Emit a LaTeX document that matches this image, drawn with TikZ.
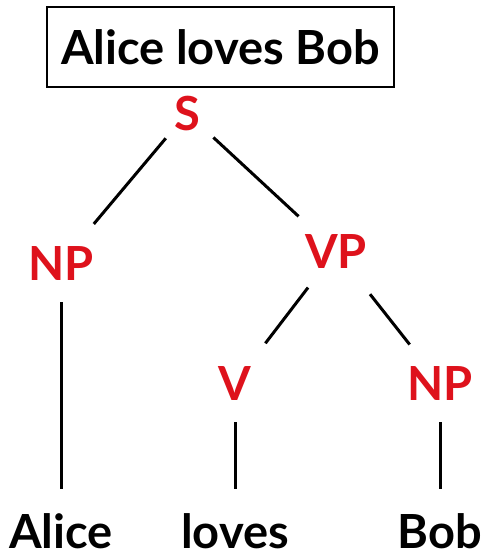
\documentclass[tikz,border=0pt]{standalone}
\usepackage{fontspec}
\setmainfont{Lato}
\definecolor{catred}{RGB}{222,18,28}
\tikzset{
  cat/.style={anchor=base, text=catred, font=\fontsize{47}{50}\selectfont\bfseries, inner sep=0pt},
  word/.style={anchor=base, font=\fontsize{47}{50}\selectfont\bfseries, inner sep=0pt},
  branch/.style={line width=3pt, shorten <=36pt, shorten >=51pt},
  stem/.style={line width=3pt, shorten <=39pt, shorten >=42pt}
}
\begin{document}
\begin{tikzpicture}[x=1pt,y=-1pt]
\useasboundingbox (0,0) rectangle (486,557);
\node[draw, line width=2pt, minimum width=347pt, minimum height=80pt, inner sep=0pt,
  font=\fontsize{47}{50}\selectfont\bfseries] (sent) at (220.5,47) {Alice loves Bob};
% categories
\node[cat] (S) at (187,130) {S};
\node[cat] (NPa) at (61,280) {NP};
\node[cat] (VP) at (336,268) {VP};
\node[cat] (V) at (235,400) {V};
\node[cat] (NPb) at (440,400) {NP};
% words
\node[word] (alice) at (61,548) {Alice};
\node[word] (loves) at (235,548) {loves};
\node[word] (bob) at (440,548) {Bob};
% branches
\draw[branch, shorten <=33pt] (S.center) -- (NPa.center);
\draw[branch] (S.center) -- (VP.center);
\draw[branch, shorten <=46pt, shorten >=50pt] (VP.center) -- (V.center);
\draw[branch, shorten <=55pt, shorten >=49pt] (VP.center) -- (NPb.center);
\draw[stem] (NPa.center) -- (alice.center);
\draw[stem] (V.center) -- (loves.center);
\draw[stem] (NPb.center) -- (bob.center);
\end{tikzpicture}
\end{document}
